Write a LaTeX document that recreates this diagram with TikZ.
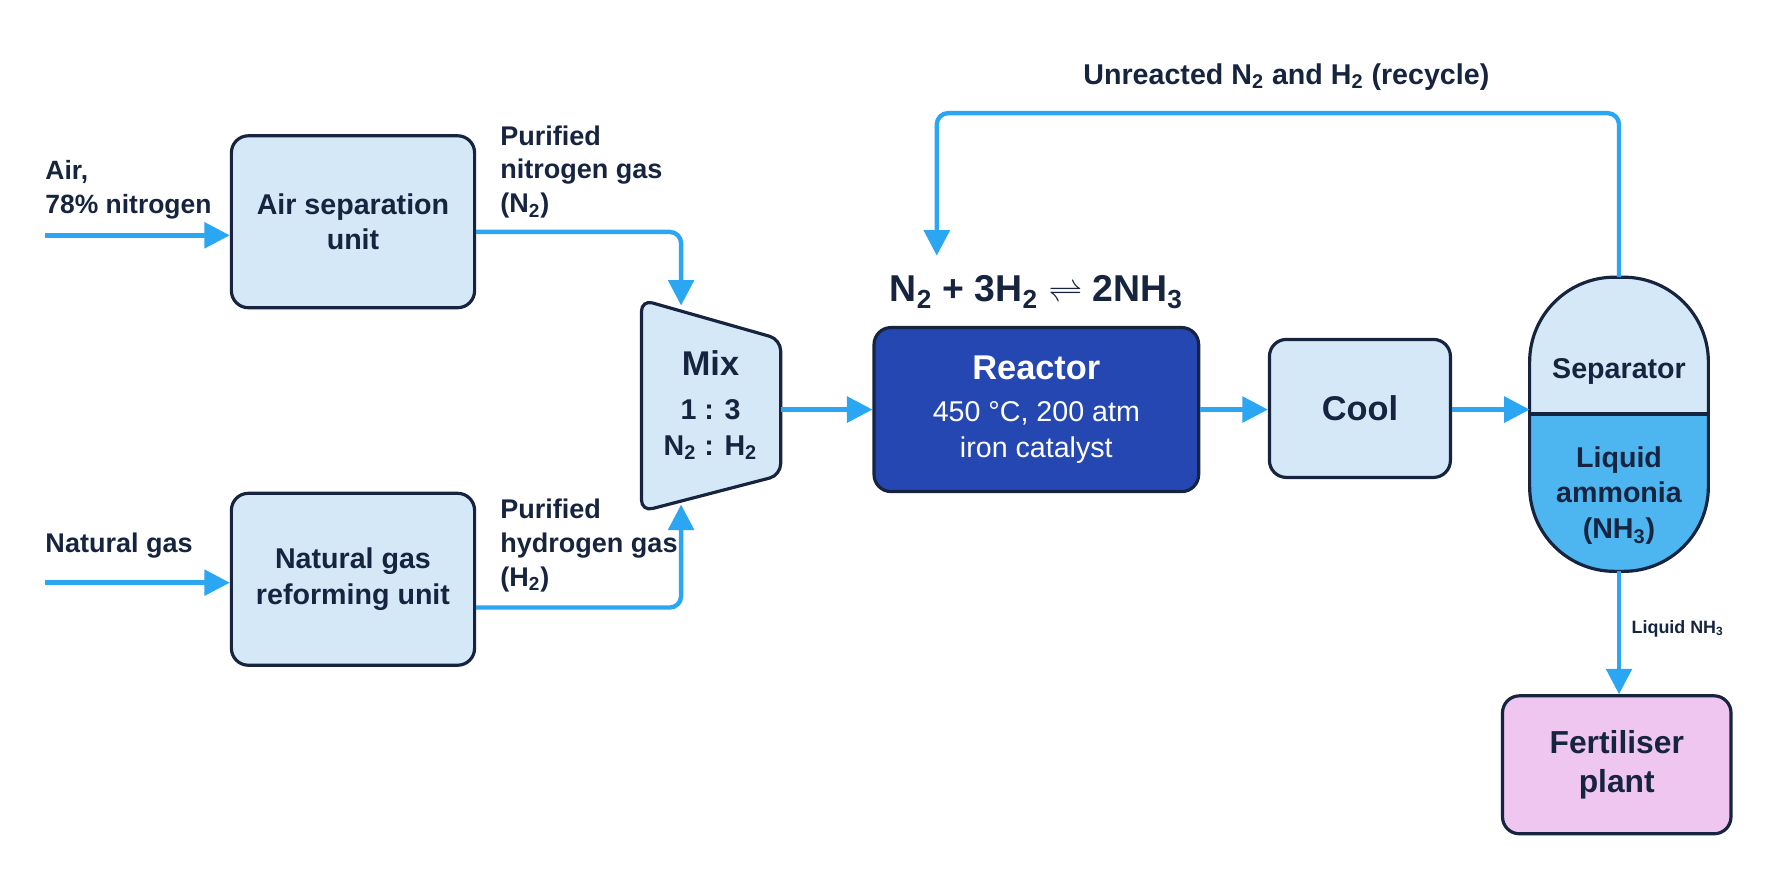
\documentclass[tikz,border=0pt]{standalone}
\usepackage{fontspec}
\setmainfont{Liberation Sans}
\usetikzlibrary{arrows.meta,positioning}
\definecolor{navy}{HTML}{16243F}
\definecolor{flow}{HTML}{2AA6F2}
\definecolor{pale}{HTML}{D5E8F8}
\definecolor{reactorblue}{HTML}{2547B2}
\definecolor{liquid}{HTML}{4DB5F0}
\definecolor{pink}{HTML}{EEC6F0}
\newcommand{\sbs}[1]{\textsubscript{#1}}
\tikzset{
  unit/.style={draw=navy, line width=1.6pt, rounded corners=0.3cm, fill=pale,
    align=center, font=\bfseries\Large, text=navy},
  flowline/.style={draw=flow, line width=2.2pt, -{Triangle[length=0.45cm,width=0.45cm]}},
  label/.style={font=\bfseries\large, text=navy, align=left}
}
\begin{document}
\begin{tikzpicture}[x=0.02cm,y=-0.02cm]

% units
\node[unit, minimum width=4.3cm, minimum height=3.04cm] (air) at (312,196) {Air separation\\unit};
\node[unit, minimum width=4.3cm, minimum height=3.04cm] (ref) at (312,512) {Natural gas\\reforming unit};
\node[unit, fill=reactorblue, text=white, minimum width=5.74cm, minimum height=2.9cm] (reactor) at (916,362)
  {\LARGE Reactor\\[3pt] \mdseries\Large 450 °C, 200 atm\\ \mdseries\Large iron catalyst};
\node[unit, minimum width=3.2cm, minimum height=2.44cm] (cool) at (1202,361) {\LARGE Cool};
\node[unit, fill=pink, minimum width=4.04cm, minimum height=2.44cm, font=\bfseries\fontsize{16}{20}\selectfont] (fert) at (1429,676) {Fertiliser\\plant};

% mixer
\coordinate (mixtop) at (602,270);
\coordinate (mixbot) at (602,446);
\draw[navy, line width=1.6pt, fill=pale, rounded corners=0.2cm]
  (567,265) -- (690,300) -- (690,420) -- (567,452) -- cycle;
\node[label, align=center, font=\bfseries\Large] (mix) at (628,358)
  {\LARGE Mix\\[4pt] 1 : 3\\ N\sbs{2} : H\sbs{2}};
\coordinate (mixout) at (690,362);

% separator
\begin{scope}
  \clip[rounded corners=1.5cm] (1352,245) rectangle (1510,505);
  \fill[pale] (1352,245) rectangle (1510,366);
  \fill[liquid] (1352,366) rectangle (1510,505);
\end{scope}
\draw[navy, line width=1.6pt, rounded corners=1.5cm] (1352,245) rectangle (1510,505);
\draw[navy, line width=1.6pt] (1352,366) -- (1510,366);
\coordinate (septop) at (1431,245);
\coordinate (sepbot) at (1431,505);
\coordinate (sepin) at (1352,362);
\node[label, font=\bfseries\Large] (sep) at (1431,328) {Separator};
\node[label, align=center, font=\bfseries\Large] (amm) at (1431,438) {Liquid\\ammonia\\(NH\sbs{3})};

% texts
\node[label, font=\bfseries\fontsize{13.3}{17}\selectfont, anchor=west] (airin) at (34,168) {Air,\\78\% nitrogen};
\node[label, font=\bfseries\fontsize{13.6}{17}\selectfont, anchor=west] (gasin) at (34,482) {Natural gas};
\node[label, font=\bfseries\fontsize{13.6}{17}\selectfont, anchor=west] (n2) at (436,152) {Purified\\nitrogen gas\\(N\sbs{2})};
\node[label, font=\bfseries\fontsize{13.6}{17}\selectfont, anchor=west] (h2) at (436,482) {Purified\\hydrogen gas\\(H\sbs{2})};
\node[label, font=\bfseries\fontsize{18.8}{23}\selectfont] (eq) at (916,258) {N\sbs{2} + 3H\sbs{2} $\rightleftharpoons$ 2NH\sbs{3}};
\node[label, font=\bfseries\Large] (recyc) at (1137,68) {Unreacted N\sbs{2} and H\sbs{2} (recycle)};
\node[label, font=\bfseries\small, anchor=west] (liq) at (1436,556) {Liquid NH\sbs{3}};

% flows
\coordinate (airstart) at (40,208);
\coordinate (gasstart) at (40,515);
\draw[flowline] (airstart) -- (air.west |- airstart);
\draw[flowline] (gasstart) -- (ref.west |- gasstart);
\draw[flowline, rounded corners=0.2cm] (air.east |- 0,205) -| (mixtop);
\draw[flowline, rounded corners=0.2cm] (ref.east |- 0,537) -| (mixbot);
\draw[flowline] (mixout) -- (reactor.west |- mixout);
\draw[flowline] (reactor.east |- mixout) -- (cool.west |- mixout);
\draw[flowline] (cool.east |- mixout) -- (sepin);
\draw[flowline] (sepbot) -- (fert.north -| sepbot);
\coordinate (recend) at (828,226);
\draw[flowline, rounded corners=0.2cm] (septop) |- (1000,100) -| (recend);

\pgfresetboundingbox
\path[use as bounding box] (0,0) rectangle (1568,784);
\end{tikzpicture}
\end{document}
